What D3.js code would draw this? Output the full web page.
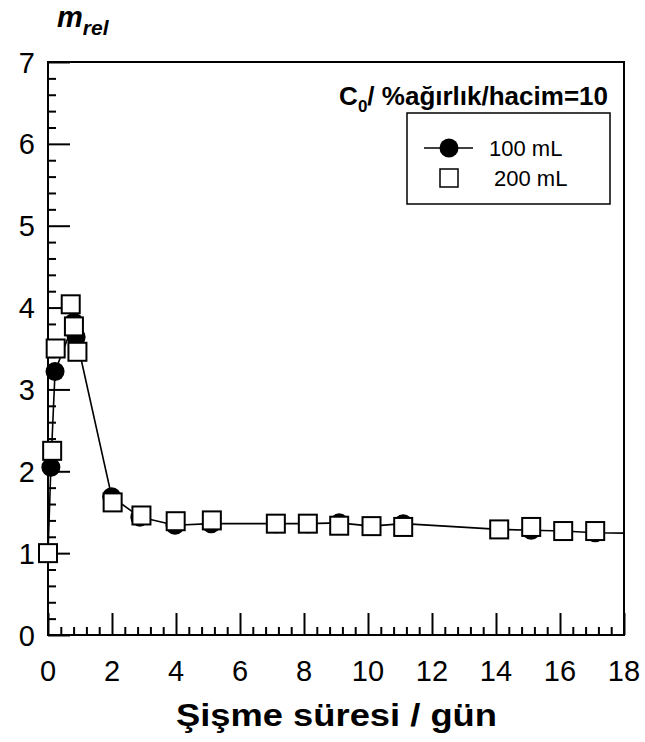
<!DOCTYPE html>
<html>
<head>
<meta charset="utf-8">
<script src="https://cdn.jsdelivr.net/npm/d3@7"></script>
<style>
  html, body { margin: 0; padding: 0; background: #fff; }
  svg { display: block; font-family: "Liberation Sans", Arial, sans-serif; }
</style>
</head>
<body>
<svg id="chart" width="645" height="742"></svg>
<script>
// Swelling time (days) and relative mass for two solution volumes
const days100 = [0, 0.09, 0.22, 0.81, 0.88, 1.99, 2.87, 3.97, 5.1, 7.12, 8.12, 9.1, 10.1, 11.1, 14.1, 15.1, 16.1, 17.1, 18.6];
const mrel100 = [1.0, 2.05, 3.22, 3.82, 3.64, 1.69, 1.44, 1.34, 1.36, 1.36, 1.36, 1.37, 1.33, 1.36, 1.29, 1.28, 1.27, 1.25, 1.24];

const days200 = [0, 0.13, 0.24, 0.71, 0.81, 0.92, 2.02, 2.92, 3.99, 5.12, 7.12, 8.12, 9.1, 10.11, 11.1, 14.1, 15.1, 16.1, 17.1];
const mrel200 = [1.0, 2.25, 3.50, 4.04, 3.77, 3.46, 1.62, 1.46, 1.39, 1.40, 1.36, 1.36, 1.335, 1.33, 1.32, 1.29, 1.32, 1.27, 1.27];

const xTicks = [0, 2, 4, 6, 8, 10, 12, 14, 16, 18];
const yTicks = [0, 1, 2, 3, 4, 5, 6, 7];
const seriesLabels = ["100 mL", "200 mL"];

const svg = d3.select("#chart");
const plotL = 48, plotR = 624, plotT = 62, plotB = 635;

const x = d3.scaleLinear().domain([0, 18]).range([plotL, plotR]);
const y = d3.scaleLinear().domain([0, 7]).range([plotB, plotT]);

// the connecting line stops at the right frame edge
svg.append("defs").append("clipPath").attr("id", "lineClip")
  .append("rect").attr("x", plotL - 30).attr("y", plotT)
  .attr("width", plotR - plotL + 30).attr("height", plotB - plotT);

// frame
svg.append("rect")
  .attr("x", plotL).attr("y", plotT)
  .attr("width", plotR - plotL).attr("height", plotB - plotT)
  .attr("fill", "none").attr("stroke", "#000").attr("stroke-width", 2);

// inward ticks: majors + minors
const xMinor = d3.range(0, 18.001, 0.4).filter(v => Math.abs(v / 2 - Math.round(v / 2)) > 1e-6);
const yMinor = d3.range(0, 7.001, 0.2).filter(v => Math.abs(v - Math.round(v)) > 1e-6);

const xAxis = d3.axisBottom(x).tickValues(xTicks).tickSize(-22).tickFormat("").tickSizeOuter(0);
const xAxisMinor = d3.axisBottom(x).tickValues(xMinor).tickSize(-8).tickFormat("").tickSizeOuter(0);
const yAxis = d3.axisLeft(y).tickValues(yTicks).tickSize(-22).tickFormat("").tickSizeOuter(0);
const yAxisMinor = d3.axisLeft(y).tickValues(yMinor).tickSize(-8).tickFormat("").tickSizeOuter(0);

function styleAxis(g) {
  g.select(".domain").remove();
  g.selectAll(".tick line").attr("stroke", "#000").attr("stroke-width", 2);
}
svg.append("g").attr("transform", `translate(0,${plotB})`).call(xAxis).call(styleAxis);
svg.append("g").attr("transform", `translate(0,${plotB})`).call(xAxisMinor).call(styleAxis);
svg.append("g").attr("transform", `translate(${plotL},0)`).call(yAxis).call(styleAxis);
svg.append("g").attr("transform", `translate(${plotL},0)`).call(yAxisMinor).call(styleAxis);

// tick labels
svg.append("g").selectAll("text").data(xTicks).join("text")
  .attr("x", d => x(d)).attr("y", 681)
  .attr("text-anchor", "middle")
  .attr("font-size", 29).text(d => d);

svg.append("g").selectAll("text").data(yTicks).join("text")
  .attr("x", 35).attr("y", d => y(d) + 10.5)
  .attr("text-anchor", "end")
  .attr("font-size", 29).text(d => d);

// axis titles
svg.append("text")
  .attr("x", 176).attr("y", 726)
  .attr("font-size", 31).attr("font-weight", "bold")
  .attr("textLength", 321).attr("lengthAdjust", "spacingAndGlyphs")
  .text("Şişme süresi / gün");

const yt = svg.append("text").attr("x", 57).attr("y", 26.5)
  .attr("font-weight", "bold").attr("font-style", "italic");
yt.append("tspan").attr("font-size", 29).text("m");
yt.append("tspan").attr("font-size", 21).attr("dy", 8).text("rel");

// data
const data100 = days100.map((d, i) => [d, mrel100[i]]);
const data200 = days200.map((d, i) => [d, mrel200[i]]);
const inFrame = d => d[0] <= 18;

svg.append("path")
  .datum(data100)
  .attr("clip-path", "url(#lineClip)")
  .attr("d", d3.line().x(d => x(d[0])).y(d => y(d[1])))
  .attr("fill", "none").attr("stroke", "#000").attr("stroke-width", 1.6);

svg.append("g").selectAll("circle").data(data100.filter(inFrame)).join("circle")
  .attr("cx", d => x(d[0])).attr("cy", d => y(d[1]))
  .attr("r", 9.5).attr("fill", "#000");

const sq = 18;
svg.append("g").selectAll("rect").data(data200.filter(inFrame)).join("rect")
  .attr("x", d => x(d[0]) - sq / 2).attr("y", d => y(d[1]) - sq / 2)
  .attr("width", sq).attr("height", sq)
  .attr("fill", "#fff").attr("stroke", "#000").attr("stroke-width", 2);

// concentration note
const note = svg.append("text").attr("x", 608).attr("y", 105)
  .attr("text-anchor", "end").attr("font-weight", "bold").attr("font-size", 26);
note.append("tspan").text("C");
note.append("tspan").attr("font-size", 17).attr("dy", 7).text("0");
note.append("tspan").attr("dy", -7).text("/ %ağırlık/hacim=10");

// legend
const lg = svg.append("g");
lg.append("rect").attr("x", 407).attr("y", 113).attr("width", 203).attr("height", 91)
  .attr("fill", "#fff").attr("stroke", "#000").attr("stroke-width", 1.5);
lg.append("line").attr("x1", 424).attr("x2", 473).attr("y1", 148).attr("y2", 148)
  .attr("stroke", "#000").attr("stroke-width", 1.6);
lg.append("circle").attr("cx", 449).attr("cy", 148).attr("r", 9.5).attr("fill", "#000");
lg.append("rect").attr("x", 440).attr("y", 169).attr("width", sq).attr("height", sq)
  .attr("fill", "#fff").attr("stroke", "#000").attr("stroke-width", 1.5);
lg.append("text").attr("x", 489).attr("y", 156).attr("font-size", 22).text(seriesLabels[0]);
lg.append("text").attr("x", 494).attr("y", 186).attr("font-size", 22).text(seriesLabels[1]);
</script>
</body>
</html>
